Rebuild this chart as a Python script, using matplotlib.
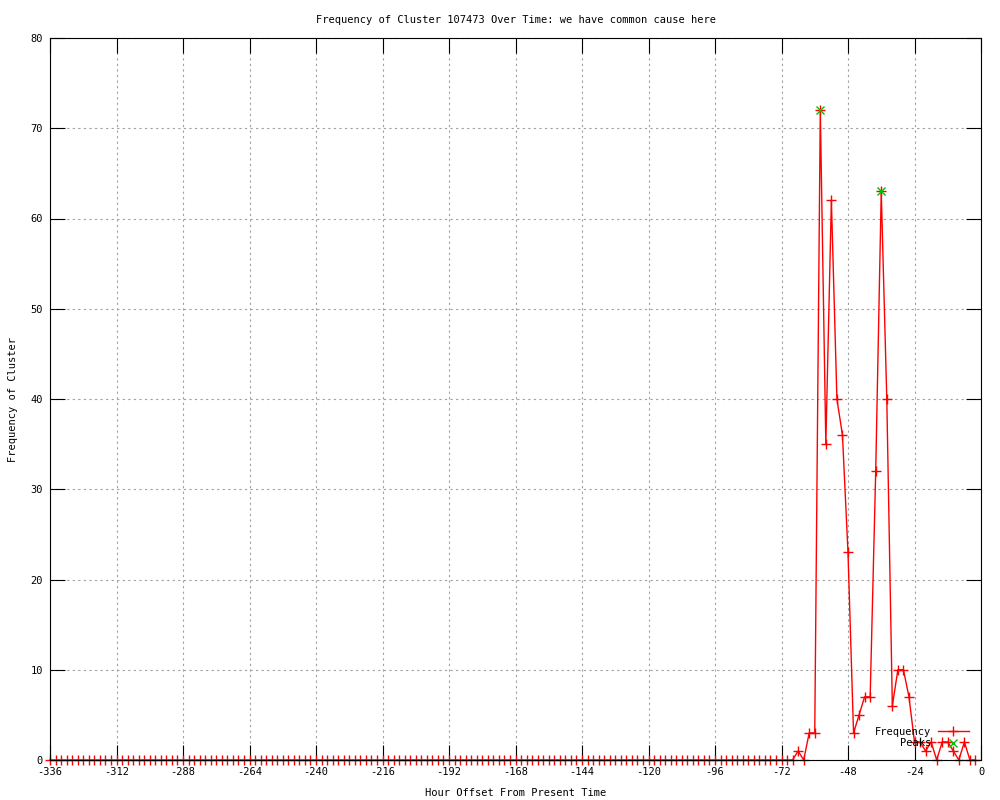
import matplotlib
matplotlib.use("Agg")
import matplotlib.pyplot as plt

# hour offsets (every 2 hours) and cluster frequency
hours = list(range(-336, 0, 2))
freq = [0, 0, 0, 0, 0, 0, 0, 0, 0, 0, 0, 0, 0, 0, 0, 0, 0, 0, 0, 0, 0, 0, 0, 0,
        0, 0, 0, 0, 0, 0, 0, 0, 0, 0, 0, 0, 0, 0, 0, 0, 0, 0, 0, 0, 0, 0, 0, 0,
        0, 0, 0, 0, 0, 0, 0, 0, 0, 0, 0, 0, 0, 0, 0, 0, 0, 0, 0, 0, 0, 0, 0, 0,
        0, 0, 0, 0, 0, 0, 0, 0, 0, 0, 0, 0, 0, 0, 0, 0, 0, 0, 0, 0, 0, 0, 0, 0,
        0, 0, 0, 0, 0, 0, 0, 0, 0, 0, 0, 0, 0, 0, 0, 0, 0, 0, 0, 0, 0, 0, 0, 0,
        0, 0, 0, 0, 0, 0, 0, 0, 0, 0, 0, 0, 0,
        0, 0, 1, 0, 3, 3, 72, 35, 62, 40, 36, 23, 3, 5, 7, 7, 32, 63, 40, 6,
        10, 10, 7, 2, 2, 1, 2, 0, 2, 2, 1, 0, 2, 0, 0]

peak_hours = [-58, -36]
peak_vals = [72, 63]

xticks = list(range(-336, 1, 24))
yticks = list(range(0, 81, 10))

plt.rcParams['font.family'] = ['DejaVu Sans Mono']
plt.rcParams['font.size'] = 7.5
plt.rcParams['axes.unicode_minus'] = False

fig = plt.figure(figsize=(10, 8), dpi=100)
ax = fig.add_axes([0.05, 0.05, 0.931, 0.9025])

ax.plot(hours, freq, color='red', lw=1.0, marker='+', ms=7.5, mew=1.0,
        label='Frequency', clip_on=False, zorder=3)
ax.plot(peak_hours, peak_vals, ls='none', color='#00c000', marker='x',
        ms=6, mew=1.0, label='Peaks', zorder=3)

ax.set_xlim(-336, 0)
ax.set_ylim(0, 80)
ax.set_xticks(xticks)
ax.set_yticks(yticks)
ax.tick_params(direction='in', length=11, width=0.8, top=True, right=True,
               labelsize=7.5, pad=5)
ax.grid(True, color='#a0a0a0', ls=(0, (2, 3)), lw=0.8)
for s in ax.spines.values():
    s.set_linewidth(0.8)
    s.set_zorder(4)

ax.set_title('Frequency of Cluster 107473 Over Time: we have common cause here',
             fontsize=7.5, pad=11)
ax.set_xlabel('Hour Offset From Present Time', fontsize=7.5, labelpad=8)
ax.set_ylabel('Frequency of Cluster', fontsize=7.5, labelpad=9)

leg = ax.legend(loc='lower right', bbox_to_anchor=(0.997, 0.003), frameon=False,
                markerfirst=False, numpoints=1, handlelength=3.0,
                handletextpad=0.6, labelspacing=0.15, fontsize=7.5)

fig.savefig('out.png', dpi=100)
